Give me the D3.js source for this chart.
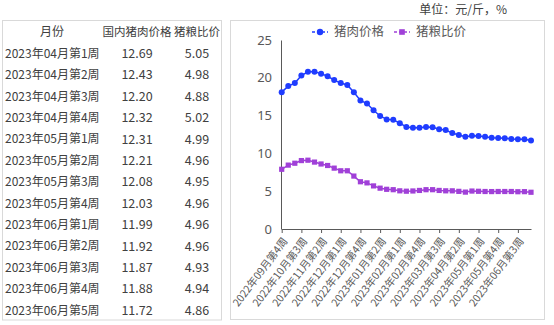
<!DOCTYPE html>
<html><head><meta charset="utf-8">
<script src="https://cdn.jsdelivr.net/npm/d3@7"></script>
<style>
body{margin:0;background:#fff;}
text{font-family:"Noto Sans CJK SC","Noto Sans",sans-serif;}
</style></head><body>
<svg id="c" width="554" height="325"></svg>
<script>
const weeks = ["2022年09月第4周","2022年10月第1周","2022年10月第2周","2022年10月第3周","2022年10月第4周","2022年11月第1周","2022年11月第2周","2022年11月第3周","2022年11月第4周","2022年12月第1周","2022年12月第2周","2022年12月第3周","2022年12月第4周","2022年12月第5周","2023年01月第1周","2023年01月第2周","2023年01月第3周","2023年01月第4周","2023年02月第1周","2023年02月第2周","2023年02月第3周","2023年02月第4周","2023年03月第1周","2023年03月第2周","2023年03月第3周","2023年03月第4周","2023年04月第1周","2023年04月第2周","2023年04月第3周","2023年04月第4周","2023年05月第1周","2023年05月第2周","2023年05月第3周","2023年05月第4周","2023年06月第1周","2023年06月第2周","2023年06月第3周","2023年06月第4周","2023年06月第5周"];
const porkPrice = [18.1,18.9,19.3,20.3,20.8,20.8,20.55,20.2,19.7,19.3,19.05,18.1,17.0,16.6,15.7,14.95,14.5,14.45,14.0,13.5,13.4,13.4,13.5,13.45,13.2,13.1,12.69,12.43,12.20,12.32,12.31,12.21,12.08,12.03,11.99,11.92,11.87,11.88,11.72];
const hogGrainRatio = [7.9,8.45,8.7,9.05,9.1,8.85,8.6,8.4,8.05,7.7,7.7,7.0,6.25,6.1,5.7,5.4,5.25,5.2,5.05,5.0,5.03,5.1,5.2,5.2,5.1,5.05,5.05,4.98,4.88,5.02,4.99,4.96,4.95,4.96,4.96,4.96,4.93,4.94,4.86];
const tableHeader = ["月份","国内猪肉价格","猪粮比价"];
const tableRows = weeks.slice(26);
const yTicks = [0,5,10,15,20,25];
const seriesNames = ["猪肉价格","猪粮比价"];
const unitText = "单位：元/斤，%";

const svg = d3.select("#c");
const textColor = "#404040", axisText = "#595959";
const blue = "#1f3cff", purple = "#a040d8";

// ---- Table panel
svg.append("rect").attr("x",2.5).attr("y",20.5).attr("width",219).attr("height",299.5)
  .attr("fill","none").attr("stroke","#d9d9d9");
const colX = [52,137,197];
const rowY = d3.scaleLinear().domain([0,1]).range([53.5,74.92]);
tableHeader.forEach((h,i)=>{
  svg.append("text").attr("x",colX[i]).attr("y",32).attr("dy","0.35em")
    .attr("text-anchor","middle").attr("font-size",i==0?12:11.5).attr("fill",textColor).text(h);
});
tableRows.forEach((w,r)=>{
  const idx = 26+r;
  const y = rowY(r);
  svg.append("text").attr("x",5).attr("y",y).attr("dy","0.35em").attr("font-size",12)
    .attr("fill",textColor).text(w);
  svg.append("text").attr("x",colX[1]).attr("y",y).attr("dy","0.35em").attr("text-anchor","middle")
    .attr("font-size",12.5).attr("fill",textColor).text(porkPrice[idx].toFixed(2));
  svg.append("text").attr("x",colX[2]).attr("y",y).attr("dy","0.35em").attr("text-anchor","middle")
    .attr("font-size",12.5).attr("fill",textColor).text(hogGrainRatio[idx].toFixed(2));
});

// ---- Chart panel
svg.append("text").attr("x",507).attr("y",10).attr("dy","0.35em").attr("text-anchor","end")
  .attr("font-size",12).attr("fill",textColor).text(unitText);
svg.append("rect").attr("x",230.5).attr("y",20.5).attr("width",314).attr("height",299)
  .attr("fill","none").attr("stroke","#d9d9d9");

const x = d3.scalePoint().domain(weeks).range([281.7,531]);
const y = d3.scaleLinear().domain([0,25]).range([229,40]);

// y axis
const ya = svg.append("g").attr("transform","translate(281,0)")
  .call(d3.axisLeft(y).tickValues(yTicks).tickSize(0).tickPadding(9));
ya.select(".domain").attr("stroke","#595959");
ya.selectAll("text").attr("font-size",13).attr("fill",axisText)
  .style("font-family","'Noto Sans',sans-serif");

// x axis
const labeled = weeks.filter((d,i)=>i%3===0);
const xa = svg.append("g").attr("transform","translate(0,229)")
  .call(d3.axisBottom(x).tickValues(labeled).tickSize(4).tickSizeOuter(0));
xa.select(".domain").attr("stroke","#595959");
xa.selectAll(".tick line").attr("stroke","#595959");
xa.selectAll("text").attr("font-size",10.5).attr("fill",axisText)
  .attr("text-anchor","end").attr("dy","0.35em").attr("y",0)
  .attr("transform","translate(3,10) rotate(-53)");

// lines
const lineP = d3.line().x((d,i)=>x(weeks[i])).y(d=>y(d));
svg.append("path").datum(porkPrice).attr("d",lineP).attr("fill","none").attr("stroke",blue).attr("stroke-width",1.5);
svg.append("path").datum(hogGrainRatio).attr("d",lineP).attr("fill","none").attr("stroke",purple).attr("stroke-width",1.5);
svg.append("g").selectAll("circle").data(porkPrice).join("circle")
  .attr("cx",(d,i)=>x(weeks[i])).attr("cy",d=>y(d)).attr("r",3).attr("fill",blue);
svg.append("g").selectAll("rect").data(hogGrainRatio).join("rect")
  .attr("x",(d,i)=>x(weeks[i])-2.6).attr("y",d=>y(d)-2.6).attr("width",5.2).attr("height",5.2).attr("fill",purple);

// legend
const leg = [{name:seriesNames[0],c:blue,x0:312,shape:"c"},{name:seriesNames[1],c:purple,x0:394,shape:"s"}];
leg.forEach(l=>{
  const g = svg.append("g");
  g.append("line").attr("x1",l.x0).attr("x2",l.x0+16).attr("y1",32).attr("y2",32)
    .attr("stroke",l.c).attr("stroke-width",1.5).attr("stroke-dasharray","3,2");
  if(l.shape==="c") g.append("circle").attr("cx",l.x0+8).attr("cy",32).attr("r",3.2).attr("fill",l.c);
  else g.append("rect").attr("x",l.x0+5.2).attr("y",29.2).attr("width",5.6).attr("height",5.6).attr("fill",l.c);
  g.append("text").attr("x",l.x0+22).attr("y",32).attr("dy","0.35em").attr("font-size",12.5)
    .attr("fill",axisText).text(l.name);
});
</script></body></html>
